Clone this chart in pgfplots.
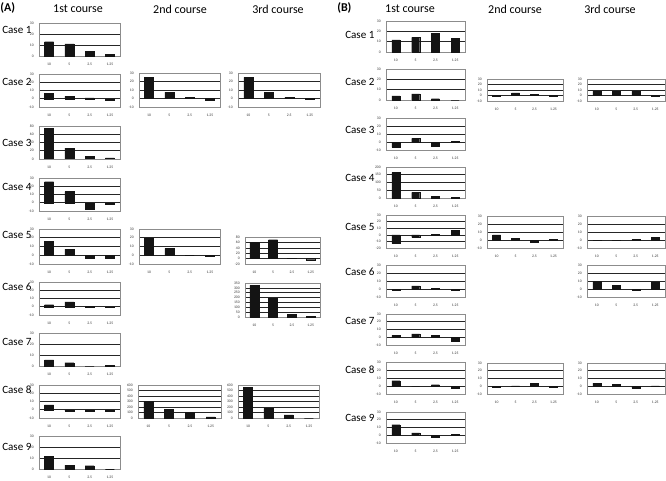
\documentclass[border=0pt]{standalone}
\usepackage{fontspec}
\setmainfont{Carlito}
\usepackage{pgfplots}
\pgfplotsset{compat=1.18}
\definecolor{framegray}{gray}{0.55}
\definecolor{gridblack}{gray}{0.15}
\definecolor{barblack}{gray}{0.08}
\pgfplotsset{
  panel/.style={
    scale only axis, anchor=north west,
    ybar, bar width=6.5pt,
    xmin=-0.5, xmax=3.5,
    xtick={0,1,2,3}, xticklabels={10,5,2.5,1.25},
    major tick length=0pt,
    axis line style={framegray, line width=0.5pt},
    ymajorgrids, grid style={gridblack, line width=0.45pt},
    tick label style={font=\fontsize{2.8}{3.2}\selectfont, text=black!80},
    xticklabel style={yshift=-1.8pt},
    yticklabel style={xshift=-0.4pt},
    /pgf/number format/assume math mode=true,
  },
  pa/.style={panel, bar width=6.75pt},
  pb/.style={panel, bar width=6pt},
  box/.code n args={4}{%
    \pgfmathsetmacro\bxa{#1*0.75}%
    \pgfmathsetmacro\bya{360-#2*0.75}%
    \pgfmathsetmacro\bw{(#3-#1)*0.75}%
    \pgfmathsetmacro\bh{(#4-#2)*0.75}%
    \edef\next{\noexpand\pgfkeysalso{/pgfplots/at={(\bxa pt,\bya pt)},/pgfplots/width=\bw pt,/pgfplots/height=\bh pt}}\next
  },
  r30/.style={ymin=0, ymax=30, ytick={0,10,20,30}},
  r40/.style={ymin=-10, ymax=30, ytick={-10,0,10,20,30}},
}
\newcommand\bars[4]{\addplot[fill=barblack, draw=barblack, line width=0.2pt] coordinates {(0,#1) (1,#2) (2,#3) (3,#4)};}
\begin{document}
\begin{tikzpicture}
\useasboundingbox (0,0) rectangle (499.5pt,360pt);
% ---------------- Panel A ----------------
\begin{axis}[pa, box={39}{23}{120}{56}, r30] \bars{13}{11}{4.5}{1.5} \end{axis}
\begin{axis}[pa, box={39}{74}{120}{107}, r40] \bars{6.5}{3}{1}{-2} \end{axis}
\begin{axis}[pa, box={139}{73}{220}{107}, r40] \bars{25}{7.5}{1.5}{-2} \end{axis}
\begin{axis}[pa, box={238}{73}{320}{107}, r40] \bars{25}{7.5}{1.5}{-1} \end{axis}
\begin{axis}[pa, box={39}{126}{120}{159}, ymin=0, ymax=80, ytick={0,20,40,60,80}] \bars{74}{26.5}{6.5}{2.5} \end{axis}
\begin{axis}[pa, box={39}{178}{120}{211}, r40] \bars{25.5}{13.5}{-7.5}{-1.5} \end{axis}
\begin{axis}[pa, box={39}{229}{120}{264}, r40] \bars{16}{7}{-3.5}{-3.5} \end{axis}
\begin{axis}[pa, box={139}{229}{220}{264}, r40] \bars{20}{8}{0}{-1.5} \end{axis}
\begin{axis}[pa, box={245}{237}{320}{264}, ymin=-20, ymax=80, ytick={-20,0,20,40,60,80}] \bars{60}{70}{1}{-4} \end{axis}
\begin{axis}[pa, box={39}{282}{120}{315}, r40] \bars{2.5}{6}{0.5}{-1} \end{axis}
\begin{axis}[pa, box={245}{283}{320}{317}, ymin=0, ymax=350, ytick={0,50,100,150,200,250,300,350}] \bars{325}{195}{25}{6} \end{axis}
\begin{axis}[pa, box={39}{333}{120}{366}, r30] \bars{5.5}{3}{0}{0.5} \end{axis}
\begin{axis}[pa, box={39}{385}{120}{418}, r40] \bars{6}{-1.5}{-1.5}{-1.5} \end{axis}
\begin{axis}[pa, box={138}{385}{221}{418}, ymin=0, ymax=600, ytick={0,100,200,300,400,500,600}] \bars{305}{160}{100}{20} \end{axis}
\begin{axis}[pa, box={238}{385}{319}{418}, ymin=0, ymax=600, ytick={0,100,200,300,400,500,600}] \bars{560}{175}{55}{0} \end{axis}
\begin{axis}[pa, box={39}{436}{120}{469}, r30] \bars{11.5}{3.5}{3}{0} \end{axis}
% ---------------- Panel B ----------------
\begin{axis}[pb, box={386}{21}{465}{52}, r30] \bars{11.7}{14.2}{18}{13.3} \end{axis}
\begin{axis}[pb, box={386}{69}{465}{100}, r30] \bars{4}{6}{1.3}{0} \end{axis}
\begin{axis}[pb, box={487}{79}{563}{101}, r40] \bars{-1.5}{5}{2}{-1} \end{axis}
\begin{axis}[pb, box={587}{79}{665}{101}, r40] \bars{8.5}{7.5}{8.5}{-1.5} \end{axis}
\begin{axis}[pb, box={386}{118}{465}{150}, r40] \bars{-6.7}{4.6}{-5}{1.2} \end{axis}
\begin{axis}[pb, box={386}{167}{465}{198}, ymin=0, ymax=200, ytick={0,50,100,150,200}] \bars{164}{36}{10.5}{6} \end{axis}
\begin{axis}[pb, box={386}{215}{465}{248}, ymin=-20, ymax=30, ytick={-20,-10,0,10,20,30}] \bars{-13}{-4}{1}{6.5} \end{axis}
\begin{axis}[pb, box={487}{216}{563}{248}, r40] \bars{6.3}{2}{-3}{0.5} \end{axis}
\begin{axis}[pb, box={587}{216}{665}{248}, r40] \bars{-0.5}{-0.5}{0.5}{3.5} \end{axis}
\begin{axis}[pb, box={386}{265}{465}{297}, r40] \bars{-1.5}{3.8}{1}{-1.5} \end{axis}
\begin{axis}[pb, box={587}{265}{665}{297}, r40] \bars{9.5}{4.5}{-1}{9} \end{axis}
\begin{axis}[pb, box={386}{314}{465}{345}, r40] \bars{2.5}{4.3}{2.1}{-5.6} \end{axis}
\begin{axis}[pb, box={386}{362}{465}{394}, r40] \bars{6.7}{0}{1.7}{-3} \end{axis}
\begin{axis}[pb, box={487}{363}{563}{394}, r40] \bars{-1}{0.5}{3.5}{-1} \end{axis}
\begin{axis}[pb, box={587}{363}{665}{394}, r40] \bars{4}{2.5}{-2.5}{0.5} \end{axis}
\begin{axis}[pb, box={386}{412}{465}{443}, r40] \bars{13.7}{3}{-3}{1} \end{axis}
% ---------------- Texts ----------------
\begin{scope}[x=0.75pt, y=-0.75pt, shift={(0pt,360pt)}, font=\fontsize{9}{10}\selectfont, inner sep=0pt]
\node[anchor=west, font=\fontsize{9}{10}\selectfont\bfseries] at (0,8) {(A)};
\node at (78,9) {1st course};
\node at (180,9) {2nd course};
\node at (278,9) {3rd course};
\node[anchor=west, font=\fontsize{9}{10}\selectfont\bfseries] at (337,8) {(B)};
\node at (410,9) {1st course};
\node at (515,9) {2nd course};
\node at (610,9) {3rd course};
\foreach \n/\yy in {1/30,2/82,3/143,4/187,5/235,6/287,7/342,8/390,9/447}
  \node[anchor=west, font=\fontsize{8.3}{9}\selectfont] at (2,\yy) {Case \n};
\foreach \n/\yy in {1/35,2/82,3/130,4/178,5/227,6/272,7/321,8/370,9/418}
  \node[anchor=west, font=\fontsize{8.3}{9}\selectfont] at (345,\yy) {Case \n};
\end{scope}
\end{tikzpicture}
\end{document}
